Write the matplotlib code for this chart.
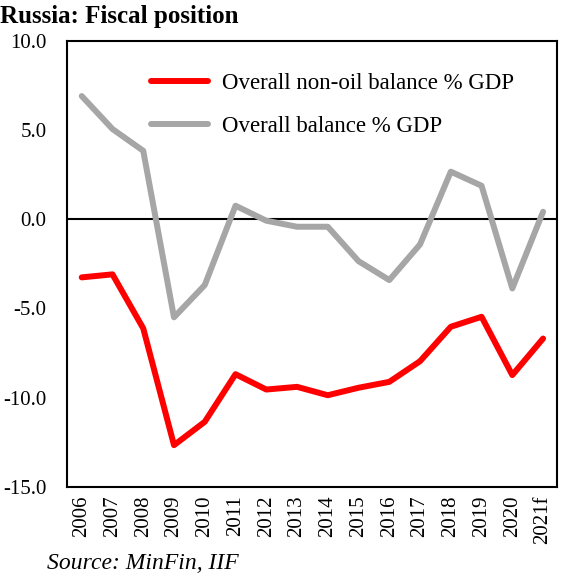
import matplotlib.pyplot as plt

# Data
years = ['2006', '2007', '2008', '2009', '2010', '2011', '2012', '2013',
         '2014', '2015', '2016', '2017', '2018', '2019', '2020', '2021f']
non_oil_balance = [-3.26, -3.09, -6.12, -12.67, -11.36, -8.69, -9.55, -9.4,
                   -9.87, -9.45, -9.12, -7.96, -6.03, -5.47, -8.74, -6.69]
overall_balance = [6.91, 5.06, 3.84, -5.5, -3.69, 0.76, -0.08, -0.42,
                   -0.42, -2.35, -3.41, -1.41, 2.67, 1.88, -3.88, 0.42]
y_ticks = [10, 5, 0, -5, -10, -15]

plt.rcParams['font.family'] = ['Liberation Serif', 'DejaVu Serif']

fig = plt.figure(figsize=(5.75, 5.77), dpi=100)
ax = fig.add_axes([0.117, 0.1565, 0.851, 0.7725])

x = range(len(years))
ax.plot(x, non_oil_balance, color='#ff0000', linewidth=4.3,
        solid_joinstyle='round', solid_capstyle='round',
        label='Overall non-oil balance % GDP')
ax.plot(x, overall_balance, color='#a6a6a6', linewidth=4.3,
        solid_joinstyle='round', solid_capstyle='round',
        label='Overall balance % GDP')
ax.axhline(0, color='black', linewidth=1.5, zorder=1)

# Axes format
ax.set_xlim(-0.47, 15.44)
ax.set_ylim(-15, 10)
ax.set_yticks(y_ticks)
ax.set_yticklabels(['%.1f' % v for v in y_ticks], fontsize=15)
ax.set_xticks(list(x))
ax.set_xticklabels(years, rotation=90, fontsize=15)
ax.tick_params(axis='both', length=0)
ax.tick_params(axis='y', pad=15)
ax.tick_params(axis='x', pad=6)
for spine in ax.spines.values():
    spine.set_linewidth(1.5)

# Legend
ax.legend(loc='upper left', bbox_to_anchor=(0.128, 0.975), frameon=False,
          fontsize=16.5, handlelength=2.5, handletextpad=0.6, labelspacing=0.95)

fig.text(0.0, 0.972, 'Russia: Fiscal position', fontsize=18, fontweight='bold',
         ha='left', va='center')
fig.text(0.082, 0.024, 'Source: MinFin, IIF', fontsize=17, style='italic',
         ha='left', va='center')

plt.savefig('out.png', dpi=100)
